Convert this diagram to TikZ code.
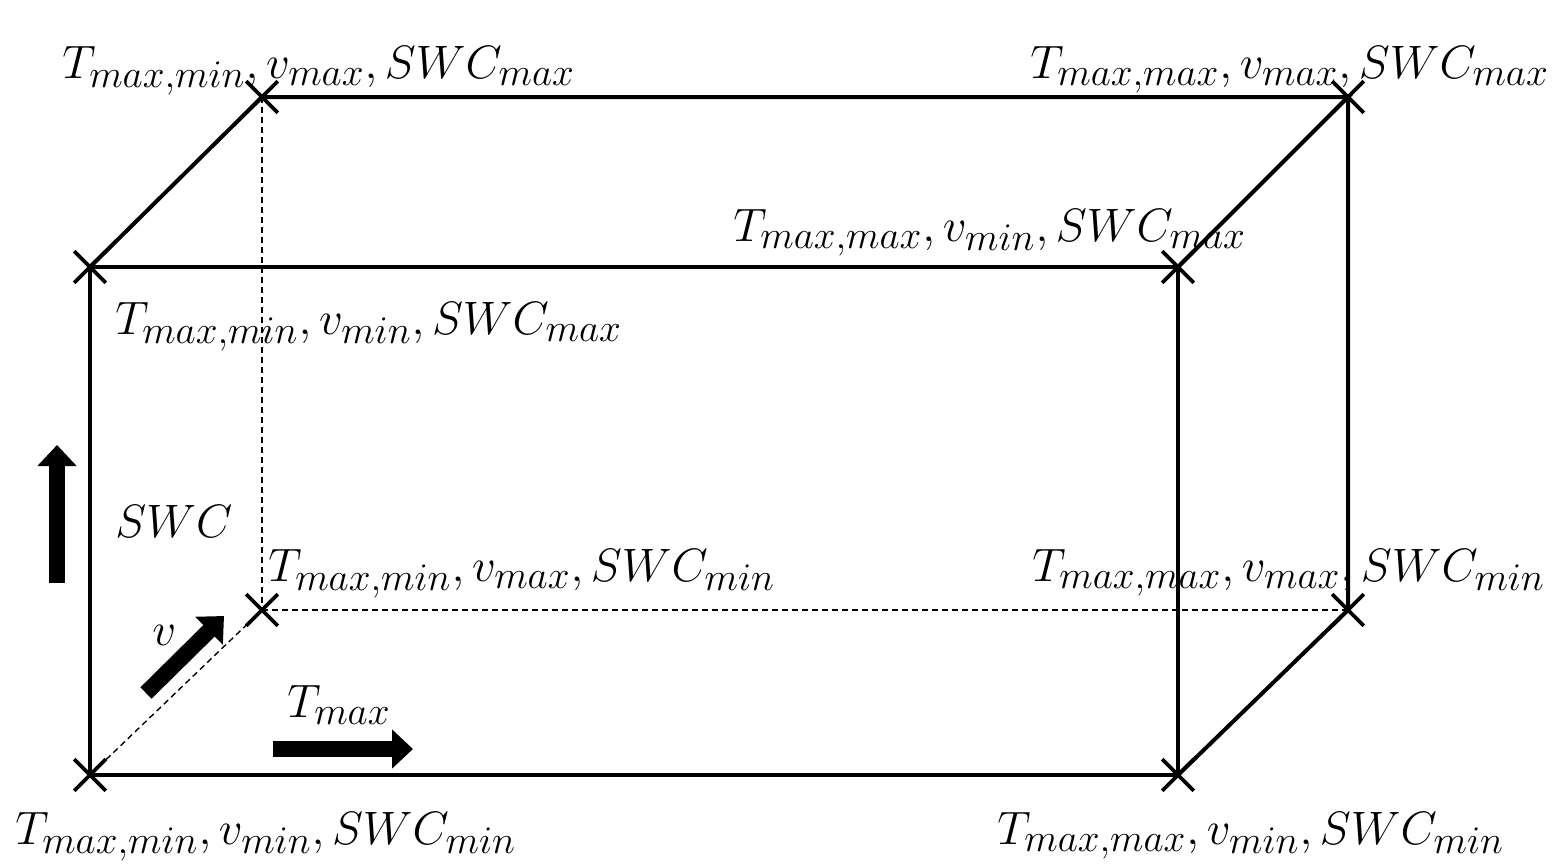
\documentclass[tikz,border=0pt]{standalone}
\usetikzlibrary{arrows.meta,shapes.misc}
\newcommand{\cubelab}[1]{\scalebox{0.942}{$#1$}}
\begin{document}
\begin{tikzpicture}[x=0.5pt,y=-0.5pt,
  corner/.style={cross out,draw,line width=1.8pt,minimum size=14pt,inner sep=0pt},
  edge/.style={line width=2pt},
  hidden/.style={line width=0.7pt,dash pattern=on 3pt off 2pt},
  lbl/.style={anchor=base west,inner sep=0pt,font=\fontsize{24.88}{30}\selectfont},
  bigarrow/.style={line width=8pt,-{Triangle[width=19pt,length=10.5pt]}}]
\useasboundingbox (0,0) rectangle (1555,864);
% corners
\node[corner] (FBL) at (90,775) {};
\node[corner] (FBR) at (1178,775) {};
\node[corner] (FTL) at (90,267) {};
\node[corner] (FTR) at (1178,267) {};
\node[corner] (BTL) at (262,97) {};
\node[corner] (BTR) at (1348,97) {};
\node[corner] (BBL) at (262,610) {};
\node[corner] (BBR) at (1348,610) {};
% solid edges
\draw[edge] (FBL.center) -- (FBR.center) -- (FTR.center) -- (FTL.center) -- cycle;
\draw[edge] (FTL.center) -- (BTL.center) -- (BTR.center) -- (FTR.center);
\draw[edge] (BTR.center) -- (BBR.center) -- (FBR.center);
% hidden edges
\draw[hidden] (BTL.center) -- (BBL.center);
\draw[hidden] (BBL.center) -- (BBR.center);
\draw[hidden] (BBL.center) -- (FBL.center);
% labels
\node[lbl] (L1) at (62,78) {\cubelab{T_{max,min}, v_{max}, SWC_{max}}};
\node[lbl] (L2) at (1030,78) {\cubelab{T_{max,max}, v_{max}, SWC_{max}}};
\node[lbl] (L3) at (733,241) {\cubelab{T_{max,max}, v_{min}, SWC_{max}}};
\node[lbl] (L4) at (115,334) {\cubelab{T_{max,min}, v_{min}, SWC_{max}}};
\node[lbl] (L5) at (115,537) {\cubelab{SWC}};
\node[lbl] (L6) at (268,581) {\cubelab{T_{max,min}, v_{max}, SWC_{min}}};
\node[lbl] (L7) at (1032,581) {\cubelab{T_{max,max}, v_{max}, SWC_{min}}};
\node[lbl] (L8) at (152,645) {\cubelab{v}};
\node[lbl] (L9) at (287,717) {\cubelab{T_{max}}};
\node[lbl] (L10) at (15,844) {\cubelab{T_{max,min}, v_{min}, SWC_{min}}};
\node[lbl] (L11) at (997,844) {\cubelab{T_{max,max}, v_{min}, SWC_{min}}};
% direction arrows
\coordinate (A1s) at (57,583);
\coordinate (A1e) at (57,445);
\coordinate (A2s) at (146,693);
\coordinate (A2e) at (224,616);
\coordinate (A3s) at (273,749);
\coordinate (A3e) at (413,749);
\draw[bigarrow] (A1s) -- (A1e);
\draw[bigarrow] (A2s) -- (A2e);
\draw[bigarrow] (A3s) -- (A3e);
\end{tikzpicture}
\end{document}
